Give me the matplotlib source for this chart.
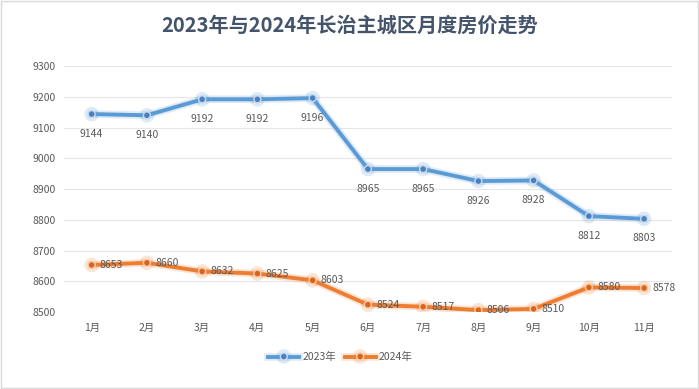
import matplotlib.pyplot as plt
import matplotlib.patheffects as pe
from matplotlib.patches import Rectangle

plt.rcParams['font.family'] = ['Noto Sans CJK SC', 'DejaVu Sans']

months = ['1月', '2月', '3月', '4月', '5月', '6月', '7月', '8月', '9月', '10月', '11月']
price_2023 = [9144, 9140, 9192, 9192, 9196, 8965, 8965, 8926, 8928, 8812, 8803]
price_2024 = [8653, 8660, 8632, 8625, 8603, 8524, 8517, 8506, 8510, 8580, 8578]

fig = plt.figure(figsize=(6.99, 3.89), dpi=100)
ax = fig.add_axes([0.0916, 0.198, 0.8694, 0.632])

x = list(range(len(months)))
glow_b = [pe.Stroke(linewidth=5.5, foreground='#5B9BD5', alpha=0.2), pe.Normal()]
glow_o = [pe.Stroke(linewidth=5.5, foreground='#ED7D31', alpha=0.2), pe.Normal()]
ax.plot(x, price_2023, color='#5B9BD5', lw=2.8, marker='o', ms=5,
        mfc='#4A7FC0', mec='#C9DBF0', mew=1.0, label='2023年', path_effects=glow_b, zorder=3)
ax.plot(x, price_2024, color='#ED7D31', lw=2.8, marker='o', ms=5,
        mfc='#D9651C', mec='#F7CDB0', mew=1.0, label='2024年', path_effects=glow_o, zorder=3)

for i, v in enumerate(price_2023):
    ax.annotate(str(v), (i, v), xytext=(0, -14), textcoords='offset points',
                ha='center', va='center', fontsize=7.5, color='#595959')
for i, v in enumerate(price_2024):
    ax.annotate(str(v), (i, v), xytext=(6, 0), textcoords='offset points',
                ha='left', va='center', fontsize=7.5, color='#595959')

ax.set_xlim(-0.5, 10.5)
ax.set_ylim(8500, 9300)
ax.set_yticks(range(8500, 9301, 100))
ax.set_xticks(x)
ax.set_xticklabels(months)
ax.tick_params(length=0, labelsize=7.5, colors='#595959', pad=8)
ax.tick_params(axis='y', pad=6)
ax.grid(axis='y', color='#E6E6E6', lw=0.8)
ax.set_axisbelow(True)
for s in ax.spines.values():
    s.set_visible(False)

fig.suptitle('2023年与2024年长治主城区月度房价走势', x=0.5, y=0.962,
             fontsize=14.5, fontweight='bold', color='#44546A')

fig.legend(loc='center', bbox_to_anchor=(0.487, 0.082), ncol=2, frameon=False,
           fontsize=7.5, labelcolor='#595959', handlelength=3, columnspacing=0.8,
           handletextpad=0.3)

fig.add_artist(Rectangle((0.002, 0.003), 0.996, 0.994, transform=fig.transFigure,
                         fill=False, ec='#D9D9D9', lw=1))

fig.savefig('out.png', dpi=100)
